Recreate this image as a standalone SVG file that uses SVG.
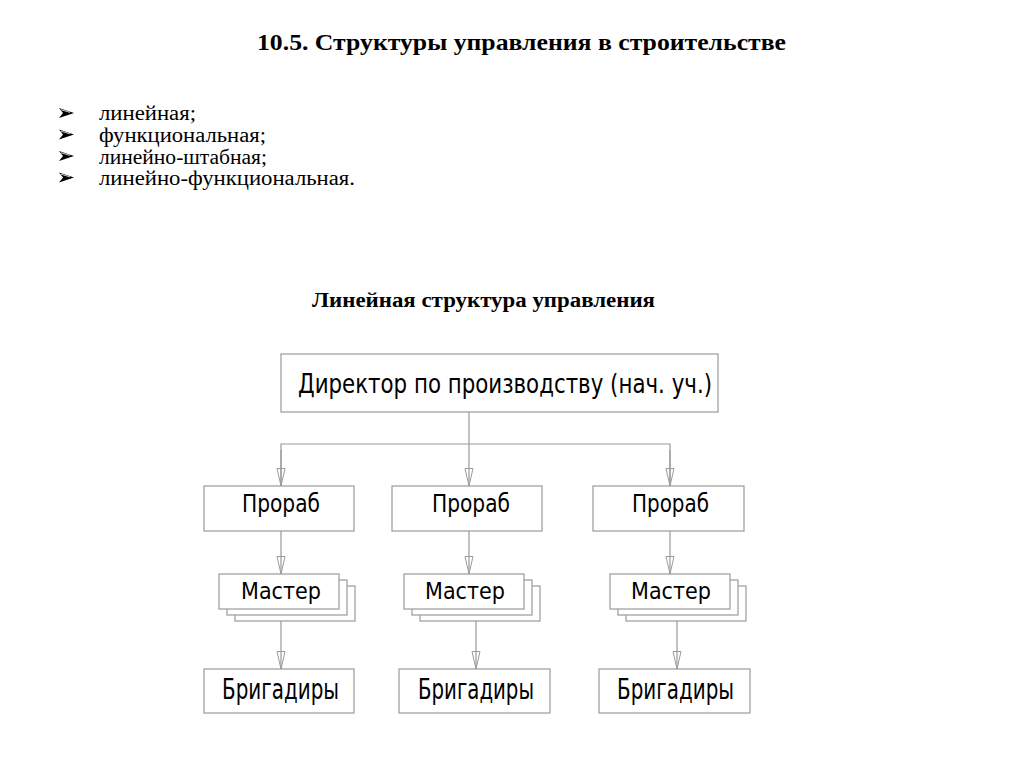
<svg xmlns="http://www.w3.org/2000/svg" width="1024" height="767" viewBox="0 0 1024 767">
<defs>
<style>
.bg{fill:#ffffff}
.box{fill:#ffffff;stroke:#9a9a9a;stroke-width:1.2}
.ln{fill:none;stroke:#9a9a9a;stroke-width:1.2}
.cad{font-family:"DejaVu Sans","Liberation Sans",sans-serif;fill:#000000}
.ttl{font-family:"Liberation Serif","Times New Roman",serif;font-weight:bold;fill:#000000}
.lst{font-family:"Liberation Serif","Times New Roman",serif;fill:#000000;font-size:20px}
</style>
<marker id="ah" markerWidth="20" markerHeight="10" refX="18" refY="4.5" orient="auto" markerUnits="userSpaceOnUse">
<path d="M0.5,0.5 L18,4.5 L0.5,8.5 Z" fill="none" stroke="#9a9a9a" stroke-width="1"/>
</marker>
<g id="bullet">
<path d="M0,-5 L15,0 L0,5 L4,0 Z" fill="#000000"/>
<path d="M2,-3.3 L11,-0.6" stroke="#ffffff" stroke-width="0.8" fill="none"/>
</g>
</defs>
<rect class="bg" x="0" y="0" width="1024" height="767"/>

<g id="title">
<text class="ttl" x="257" y="50" font-size="24" textLength="529" lengthAdjust="spacingAndGlyphs">10.5. Структуры управления в строительстве</text>
</g>

<g id="list">
<use href="#bullet" x="59" y="113"/>
<use href="#bullet" x="59" y="134.5"/>
<use href="#bullet" x="59" y="156"/>
<use href="#bullet" x="59" y="177.5"/>
<text class="lst" x="99" y="120" textLength="97" lengthAdjust="spacingAndGlyphs">линейная;</text>
<text class="lst" x="99" y="142" textLength="167" lengthAdjust="spacingAndGlyphs">функциональная;</text>
<text class="lst" x="99" y="163.5" textLength="168" lengthAdjust="spacingAndGlyphs">линейно-штабная;</text>
<text class="lst" x="99" y="185" textLength="256" lengthAdjust="spacingAndGlyphs">линейно-функциональная.</text>
</g>

<g id="subtitle">
<text class="ttl" x="312" y="307" font-size="20" textLength="343" lengthAdjust="spacingAndGlyphs">Линейная структура управления</text>
</g>

<g id="connectors">
<line class="ln" x1="469" y1="412" x2="469" y2="486" marker-end="url(#ah)"/>
<polyline class="ln" points="281,486 281,444 670,444 670,486"/>
<line class="ln" x1="281" y1="450" x2="281" y2="486" marker-end="url(#ah)"/>
<line class="ln" x1="670" y1="450" x2="670" y2="486" marker-end="url(#ah)"/>
<line class="ln" x1="281" y1="531" x2="281" y2="574" marker-end="url(#ah)"/>
<line class="ln" x1="469" y1="531" x2="469" y2="574" marker-end="url(#ah)"/>
<line class="ln" x1="670" y1="531" x2="670" y2="574" marker-end="url(#ah)"/>
<line class="ln" x1="281" y1="621" x2="281" y2="669" marker-end="url(#ah)"/>
<line class="ln" x1="476" y1="621" x2="476" y2="669" marker-end="url(#ah)"/>
<line class="ln" x1="677" y1="621" x2="677" y2="669" marker-end="url(#ah)"/>
</g>

<g id="director">
<rect class="box" x="281" y="354" width="437" height="58"/>
<text class="cad" x="298" y="393" font-size="27" textLength="414" lengthAdjust="spacingAndGlyphs">Директор по производству (нач. уч.)</text>
</g>

<g id="prorab1">
<rect class="box" x="204" y="486" width="150" height="45"/>
<text class="cad" x="242" y="512" font-size="24" textLength="78" lengthAdjust="spacingAndGlyphs">Прораб</text>
</g>
<g id="prorab2">
<rect class="box" x="392" y="486" width="150" height="45"/>
<text class="cad" x="432" y="512" font-size="24" textLength="78" lengthAdjust="spacingAndGlyphs">Прораб</text>
</g>
<g id="prorab3">
<rect class="box" x="593" y="486" width="151" height="45"/>
<text class="cad" x="632" y="512" font-size="24" textLength="77" lengthAdjust="spacingAndGlyphs">Прораб</text>
</g>

<g id="master1">
<rect class="box" x="235" y="586" width="120" height="35"/>
<rect class="box" x="227" y="580" width="120" height="35"/>
<rect class="box" x="219" y="574" width="120" height="35"/>
<text class="cad" x="241" y="599" font-size="23" textLength="80" lengthAdjust="spacingAndGlyphs">Мастер</text>
</g>
<g id="master2">
<rect class="box" x="420" y="586" width="120" height="35"/>
<rect class="box" x="412" y="580" width="120" height="35"/>
<rect class="box" x="404" y="574" width="120" height="35"/>
<text class="cad" x="425" y="599" font-size="23" textLength="80" lengthAdjust="spacingAndGlyphs">Мастер</text>
</g>
<g id="master3">
<rect class="box" x="626" y="586" width="120" height="35"/>
<rect class="box" x="618" y="580" width="120" height="35"/>
<rect class="box" x="610" y="574" width="120" height="35"/>
<text class="cad" x="631" y="599" font-size="23" textLength="80" lengthAdjust="spacingAndGlyphs">Мастер</text>
</g>

<g id="brigadiry1">
<rect class="box" x="204" y="669" width="150" height="44"/>
<text class="cad" x="222" y="699" font-size="28" textLength="117" lengthAdjust="spacingAndGlyphs">Бригадиры</text>
</g>
<g id="brigadiry2">
<rect class="box" x="399" y="669" width="151" height="44"/>
<text class="cad" x="418" y="699" font-size="28" textLength="116" lengthAdjust="spacingAndGlyphs">Бригадиры</text>
</g>
<g id="brigadiry3">
<rect class="box" x="599" y="669" width="151" height="44"/>
<text class="cad" x="617" y="699" font-size="28" textLength="117" lengthAdjust="spacingAndGlyphs">Бригадиры</text>
</g>
</svg>
